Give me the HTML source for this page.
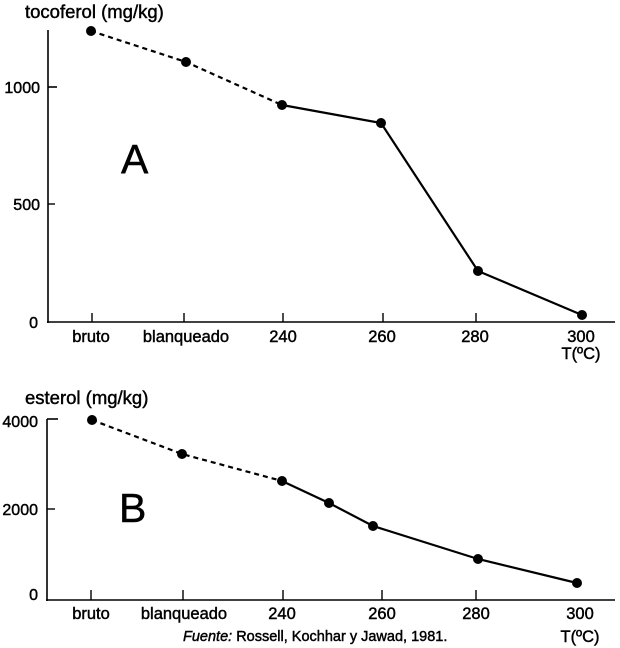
<!DOCTYPE html>
<html><head><meta charset="utf-8"><style>
html,body{margin:0;padding:0;background:#fff;}
svg{display:block;}
text{font-family:"Liberation Sans",Arial,sans-serif;fill:#000;stroke:#000;stroke-width:0.45px;}
</style></head><body>
<svg width="620" height="648" viewBox="0 0 620 648" xmlns="http://www.w3.org/2000/svg">
<!-- Chart A -->
<text x="25" y="18" font-size="18.5">tocoferol (mg/kg)</text>
<line x1="48" y1="30" x2="48" y2="323" stroke="#000" stroke-width="1.6"/>
<line x1="47" y1="322" x2="615" y2="322" stroke="#000" stroke-width="1.6"/>
<line x1="48" y1="87" x2="57" y2="87" stroke="#000" stroke-width="1.6"/>
<line x1="48" y1="204" x2="55" y2="204" stroke="#000" stroke-width="1.4"/>
<text x="40" y="93" font-size="16" text-anchor="end">1000</text>
<text x="40" y="210" font-size="16" text-anchor="end">500</text>
<text x="38" y="328" font-size="16" text-anchor="end">0</text>
<g stroke="#000" stroke-width="1.4">
<line x1="92" y1="313" x2="92" y2="322"/>
<line x1="184" y1="313" x2="184" y2="322"/>
<line x1="283" y1="313" x2="283" y2="322"/>
<line x1="383" y1="313" x2="383" y2="322"/>
<line x1="476" y1="313" x2="476" y2="322"/>
</g>
<g font-size="16.5" text-anchor="middle">
<text x="91" y="342">bruto</text>
<text x="186" y="342">blanqueado</text>
<text x="283" y="342">240</text>
<text x="382" y="342">260</text>
<text x="475" y="342">280</text>
<text x="581" y="342">300</text>
<text x="581" y="359">T(ºC)</text>
</g>
<polyline points="91,31 186,62 282,105" fill="none" stroke="#000" stroke-width="2.2" stroke-dasharray="5,4"/>
<polyline points="282,105 381,123 478,271 582,315" fill="none" stroke="#000" stroke-width="2.2"/>
<g fill="#000">
<circle cx="91" cy="31" r="5"/>
<circle cx="186" cy="62" r="5"/>
<circle cx="282" cy="105" r="5"/>
<circle cx="381" cy="123" r="5"/>
<circle cx="478" cy="271" r="5"/>
<circle cx="582" cy="315" r="5"/>
</g>
<text x="121" y="173" font-size="41">A</text>

<!-- Chart B -->
<text x="25" y="404" font-size="18.5">esterol (mg/kg)</text>
<line x1="47" y1="419" x2="47" y2="601" stroke="#000" stroke-width="1.6"/>
<line x1="46" y1="600" x2="615" y2="600" stroke="#000" stroke-width="1.6"/>
<line x1="47" y1="419" x2="58" y2="419" stroke="#000" stroke-width="1.6"/>
<line x1="47" y1="509" x2="55" y2="509" stroke="#000" stroke-width="1.4"/>
<text x="38" y="427" font-size="16" text-anchor="end">4000</text>
<text x="38" y="515" font-size="16" text-anchor="end">2000</text>
<text x="38" y="600" font-size="16" text-anchor="end">0</text>
<g stroke="#000" stroke-width="1.4">
<line x1="91" y1="590" x2="91" y2="600"/>
<line x1="183" y1="590" x2="183" y2="600"/>
<line x1="283" y1="590" x2="283" y2="600"/>
<line x1="382" y1="590" x2="382" y2="600"/>
<line x1="476" y1="590" x2="476" y2="600"/>
</g>
<g font-size="16.5" text-anchor="middle">
<text x="91" y="619">bruto</text>
<text x="184" y="619">blanqueado</text>
<text x="282" y="619">240</text>
<text x="382" y="619">260</text>
<text x="476" y="619">280</text>
<text x="580" y="619">300</text>
<text x="580" y="642">T(ºC)</text>
</g>
<text x="183" y="641" font-size="14.5"><tspan font-style="italic">Fuente:</tspan> Rossell, Kochhar y Jawad, 1981.</text>
<polyline points="92,420 182,454 282,481" fill="none" stroke="#000" stroke-width="2.2" stroke-dasharray="5,4"/>
<polyline points="282,481 329,503 373,526 478,559 577,583" fill="none" stroke="#000" stroke-width="2.2"/>
<g fill="#000">
<circle cx="92" cy="420" r="5"/>
<circle cx="182" cy="454" r="5"/>
<circle cx="282" cy="481" r="5"/>
<circle cx="329" cy="503" r="5"/>
<circle cx="373" cy="526" r="5"/>
<circle cx="478" cy="559" r="5"/>
<circle cx="577" cy="583" r="5"/>
</g>
<text x="119" y="522" font-size="41">B</text>
</svg>
</body></html>
